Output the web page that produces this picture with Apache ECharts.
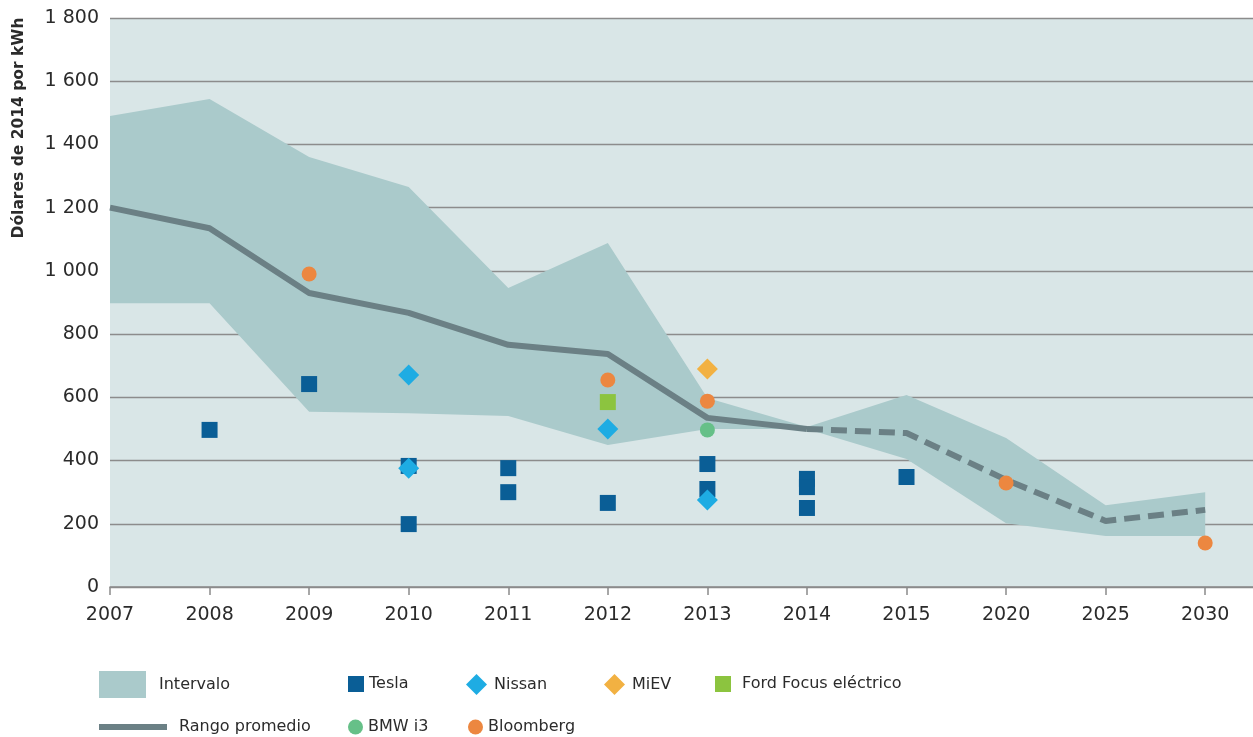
<!DOCTYPE html>
<html>
<head>
<meta charset="utf-8">
<script src="https://cdn.jsdelivr.net/npm/echarts@6/dist/echarts.min.js"></script>
<style>
  html, body { margin: 0; padding: 0; background: #fff; }
  #chart { width: 1253px; height: 737px; }
</style>
</head>
<body>
<div id="chart"></div>
<script>
// categorías del eje x (espaciado uniforme)
const years = ['2007', '2008', '2009', '2010', '2011', '2012', '2013', '2014', '2015', '2020', '2025', '2030'];
const yTicks = [0, 200, 400, 600, 800, 1000, 1200, 1400, 1600, 1800];

// intervalo (banda)
const bandLow = [898, 898, 554, 550, 541, 449, 500, 500, 405, 202, 161, 161];
const bandHigh = [1490, 1544, 1360, 1265, 946, 1088, 598, 506, 607, 471, 259, 300];

// rango promedio: sólido 2007-2014, discontinuo 2014-2030
const avgSolidYears = ['2007', '2008', '2009', '2010', '2011', '2012', '2013', '2014'];
const avgSolid = [1200, 1135, 930, 867, 766, 737, 535, 500];
const avgDashYears = ['2014', '2015', '2020', '2025', '2030'];
const avgDash = [500, 487, 339, 209, 244];

// puntos
const tesla = [['2008', 497], ['2009', 642], ['2010', 383], ['2010', 199], ['2011', 376], ['2011', 300],
  ['2012', 266], ['2013', 389], ['2013', 310], ['2014', 342], ['2014', 316], ['2014', 250], ['2015', 348]];
const nissan = [['2010', 671], ['2010', 376], ['2012', 500], ['2013', 275]];
const miev = [['2013', 690]];
const ford = [['2012', 585]];
const bmw = [['2013', 497]];
const bloomberg = [['2009', 990], ['2012', 655], ['2013', 588], ['2020', 329], ['2030', 139]];

const txt = '#2b2b2b';
const lineColor = '#6b8085';
const bandColor = '#aacacb';

function pts(arr) {
    return arr.map(function (d) { return [years.indexOf(d[0]), d[1]]; });
}
function zipYears(ys, vals) {
    return ys.map(function (y, i) { return [years.indexOf(y), vals[i]]; });
}
function fmtNum(v) {
    return String(v).replace(/\B(?=(\d{3})+(?!\d))/g, ' ');
}

// banda: un solo polígono (arriba de izq. a der., abajo de der. a izq.)
function renderBand(params, api) {
    if (params.dataIndex !== 0) return;
    let poly = [];
    for (let i = 0; i < years.length; i++) poly.push(api.coord([i, bandHigh[i]]));
    for (let i = years.length - 1; i >= 0; i--) poly.push(api.coord([i, bandLow[i]]));
    return {
        type: 'polygon',
        shape: { points: poly },
        style: { fill: bandColor }
    };
}

const chart = echarts.init(document.getElementById('chart'));

const legendText = { color: txt, fontSize: 16, fontFamily: 'DejaVu Sans', lineHeight: 20 };
function legend(name, left, top, w, h, gap, extra) {
    let item = Object.assign({ name: name }, extra || {});
    return {
        data: [item], left: left, top: top, itemWidth: w, itemHeight: h,
        padding: 0, selectedMode: false,
        textStyle: Object.assign({ padding: [0, 0, 0, gap] }, legendText)
    };
}

const option = {
    animation: false,
    grid: {
        left: 110, right: 0, top: 18, bottom: 150,
        show: true, backgroundColor: '#d9e6e7', borderWidth: 0
    },
    xAxis: {
        type: 'value', min: 0, max: 11.48, interval: 1,
        splitLine: { show: false },
        axisLine: { lineStyle: { color: '#8a8a8a', width: 1.5 } },
        axisTick: { length: 8, lineStyle: { color: '#8a8a8a', width: 1.5 } },
        axisLabel: {
            color: txt, fontSize: 19, fontFamily: 'DejaVu Sans', margin: 19,
            showMaxLabel: false,
            formatter: function (v) { return Number.isInteger(v) && years[v] ? years[v] : ''; }
        }
    },
    yAxis: {
        type: 'value', min: yTicks[0], max: yTicks[yTicks.length - 1], interval: 200,
        axisLine: { show: false },
        axisTick: { show: false },
        splitLine: { lineStyle: { color: '#8c8c8c', width: 1.3 } },
        axisLabel: { color: txt, fontSize: 19, fontFamily: 'DejaVu Sans', margin: 11, formatter: fmtNum }
    },
    graphic: [{
        type: 'text', x: 19, y: 128, rotation: Math.PI / 2,
        style: {
            text: 'Dólares de 2014 por kWh', fill: txt, font: 'bold 15.5px "DejaVu Sans"',
            textAlign: 'center', textVerticalAlign: 'middle'
        }
    }],
    legend: [
        legend('Intervalo', 99, 671, 47, 27, 8, { icon: 'rect', itemStyle: { color: bandColor, borderWidth: 0 } }),
        legend('Tesla', 348, 674, 16, 16, 0),
        legend('Nissan', 466, 674, 21, 21, 2),
        legend('MiEV', 604, 674, 21, 21, 2),
        legend('Ford Focus eléctrico', 715, 674, 16, 16, 6),
        legend('Rango promedio', 99, 717, 68, 6, 7, { icon: 'rect', itemStyle: { color: lineColor, borderWidth: 0 } }),
        legend('BMW i3', 348, 717, 15, 15, 0),
        legend('Bloomberg', 468, 717, 15, 15, 0)
    ],
    series: [
        {
            name: 'Intervalo', type: 'custom', silent: true, z: 1,
            itemStyle: { color: bandColor },
            renderItem: renderBand,
            data: years.map(function (y, i) { return [i, bandLow[i], bandHigh[i]]; })
        },
        {
            name: 'Rango promedio', type: 'line', symbol: 'none', z: 3,
            itemStyle: { color: lineColor },
            lineStyle: { color: lineColor, width: 6, cap: 'butt', join: 'round' },
            data: zipYears(avgSolidYears, avgSolid)
        },
        {
            name: 'Rango promedio (proyección)', type: 'line', symbol: 'none', z: 3,
            lineStyle: { color: lineColor, width: 6, type: [16, 8], cap: 'butt' },
            data: zipYears(avgDashYears, avgDash)
        },
        { name: 'Tesla', type: 'scatter', symbol: 'rect', symbolSize: 16, z: 4, itemStyle: { color: '#0a5e96', opacity: 1 }, data: pts(tesla) },
        { name: 'Nissan', type: 'scatter', symbol: 'diamond', symbolSize: 21, z: 4, itemStyle: { color: '#1eace3', opacity: 1 }, data: pts(nissan) },
        { name: 'MiEV', type: 'scatter', symbol: 'diamond', symbolSize: 21, z: 4, itemStyle: { color: '#f2b142', opacity: 1 }, data: pts(miev) },
        { name: 'Ford Focus eléctrico', type: 'scatter', symbol: 'rect', symbolSize: 16, z: 4, itemStyle: { color: '#8cc43f', opacity: 1 }, data: pts(ford) },
        { name: 'BMW i3', type: 'scatter', symbol: 'circle', symbolSize: 15, z: 4, itemStyle: { color: '#66c088', opacity: 1 }, data: pts(bmw) },
        { name: 'Bloomberg', type: 'scatter', symbol: 'circle', symbolSize: 15, z: 4, itemStyle: { color: '#ec8740', opacity: 1 }, data: pts(bloomberg) }
    ]
};

chart.setOption(option);
</script>
</body>
</html>
